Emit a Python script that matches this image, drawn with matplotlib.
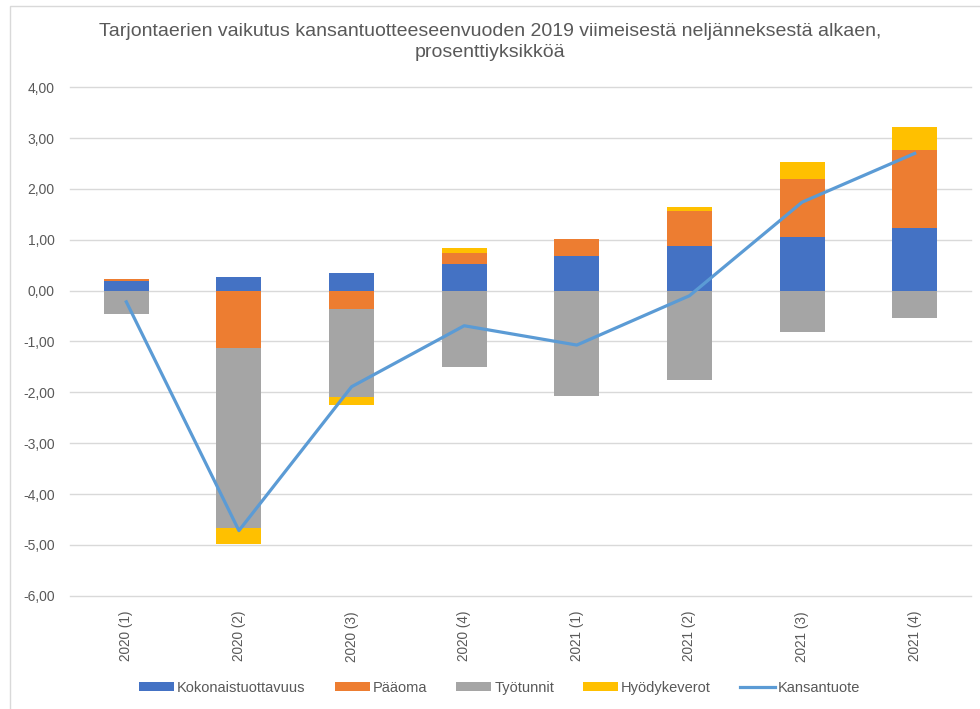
import matplotlib.pyplot as plt
import numpy as np
from matplotlib.patches import Rectangle
from matplotlib.ticker import FuncFormatter, MultipleLocator

plt.rcParams['font.family'] = ['Liberation Sans', 'DejaVu Sans']

quarters = ["2020 (1)", "2020 (2)", "2020 (3)", "2020 (4)",
            "2021 (1)", "2021 (2)", "2021 (3)", "2021 (4)"]
kokonaistuottavuus = [0.19, 0.26, 0.35, 0.53, 0.69, 0.87, 1.05, 1.24]
paaoma = [0.03, -1.12, -0.37, 0.21, 0.32, 0.69, 1.15, 1.52]
tyotunnit = [-0.45, -3.55, -1.73, -1.51, -2.07, -1.76, -0.81, -0.53]
hyodykeverot = [0.01, -0.31, -0.15, 0.10, -0.01, 0.09, 0.34, 0.46]
kansantuote = [-0.22, -4.72, -1.89, -0.69, -1.07, -0.10, 1.74, 2.70]

series = [
    ("Kokonaistuottavuus", kokonaistuottavuus, "#4472C4"),
    ("Pääoma", paaoma, "#ED7D31"),
    ("Työtunnit", tyotunnit, "#A5A5A5"),
    ("Hyödykeverot", hyodykeverot, "#FFC000"),
]

text_col = "#595959"

fig = plt.figure(figsize=(9.8, 7.09), dpi=100)
ax = fig.add_axes([70 / 980, 113.3 / 709, 901 / 980, 508.4 / 709])

x = np.arange(len(quarters))
pos_base = np.zeros(len(quarters))
neg_base = np.zeros(len(quarters))
handles = []
for name, vals, col in series:
    vals = np.array(vals)
    # Excel-style stacking: positives up from 0, negatives down from 0
    bottom = np.where(vals >= 0, pos_base, neg_base)
    h = ax.bar(x, vals, 0.4, bottom=bottom, color=col, label=name, zorder=2)
    handles.append(h)
    pos_base += np.where(vals >= 0, vals, 0)
    neg_base += np.where(vals < 0, vals, 0)

line, = ax.plot(x, kansantuote, color="#5B9BD5", lw=2.3, label="Kansantuote", zorder=3)
handles.append(line)

ax.set_xlim(-0.5, len(quarters) - 0.5)
ax.set_ylim(-6, 4)
ax.yaxis.set_major_locator(MultipleLocator(1))
ax.yaxis.set_major_formatter(FuncFormatter(lambda v, p: f"{v:.2f}".replace(".", ",")))
ax.grid(axis="y", color="#D9D9D9", lw=1, zorder=0)
for gl in ax.get_ygridlines():
    gl.set_clip_on(False)
for s in ax.spines.values():
    s.set_visible(False)
ax.tick_params(axis="y", length=0, pad=11, labelsize=10, labelcolor=text_col)
ax.tick_params(axis="x", length=0, pad=11, labelsize=9.8, labelcolor=text_col)
ax.set_xticks(x)
ax.set_xticklabels(quarters, rotation=90)

fig.text(0.5, 1 - 42 / 709,
         "Tarjontaerien vaikutus kansantuotteeseenvuoden 2019 viimeisestä neljänneksestä alkaen,\nprosenttiyksikköä",
         ha="center", va="center", fontsize=14, color=text_col, linespacing=1.25)

fig.legend(handles, [h.get_label() for h in handles], loc="center",
           bbox_to_anchor=(0.51, 1 - 688 / 709),
           ncol=5, frameon=False, fontsize=10.5, handlelength=2.4, handleheight=0.6,
           columnspacing=2.0, handletextpad=0.2, labelcolor=text_col)

fig.patches.append(Rectangle((10 / 980, -0.01), 1.0, 1 - 6 / 709 + 0.01,
                             transform=fig.transFigure, fill=False,
                             edgecolor="#D9D9D9", lw=1))

fig.savefig("out.png", dpi=100)
